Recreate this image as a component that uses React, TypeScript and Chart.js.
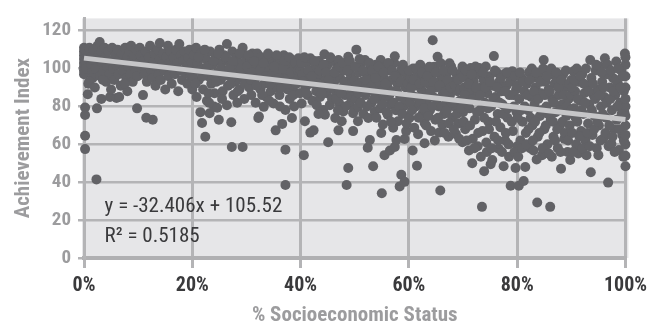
import { useEffect, useRef } from "react";
import { Chart, registerables } from "chart.js";

Chart.register(...registerables);

// x = % socioeconomic status (0-100), y = achievement index
const ses0to10: [number, number][] = [
  [0, 111], [0, 109], [0, 107], [0, 105], [0, 103], [0, 101], [0, 99], [0, 97], [0.2, 110], [0.3, 104], [0.4, 100],
  [0.2, 79.5], [0.2, 75.5], [0.2, 64.5], [0.2, 57.5], [0.7, 86.5], [0.8, 92], [2.4, 79], [2.3, 41.5], [3.2, 84],
  [0.8, 108], [1, 111], [1.2, 106], [1.3, 102], [1.5, 98], [1.6, 95], [1.8, 110], [2, 104], [2.2, 100], [2.5, 112],
  [2.7, 107], [2.9, 114], [3, 96], [3.2, 109], [3.4, 103], [3.6, 99], [3.8, 111], [4, 106], [4.1, 93], [4.3, 101],
  [4.5, 109], [4.7, 97], [4.8, 85], [5, 104], [5.2, 111], [5.4, 100], [5.6, 94], [5.8, 107], [6, 102], [6, 84.5],
  [6.2, 110], [6.4, 97], [6.6, 105], [6.8, 91], [7, 108], [7.2, 99], [7.4, 103], [7.6, 111], [7.8, 95], [8, 106],
  [8, 88], [8.2, 101], [8.4, 109], [8.6, 97], [8.7, 112], [8.9, 104], [9, 93], [9.2, 107], [9.4, 100], [9.6, 110],
  [9.8, 79], [9.9, 96], [1, 93], [2, 90], [5, 89], [6.5, 85], [3.5, 94], [7.5, 92],
];

const ses10to20: [number, number][] = [
  [10, 103], [10.3, 111], [10.5, 107], [10.7, 100], [10.9, 86], [11, 104], [11.2, 97], [11.4, 109], [11.5, 74],
  [11.6, 93], [11.8, 102], [12, 106], [12.2, 112], [12.4, 99], [12.6, 95], [12.7, 73], [12.9, 104], [13, 108],
  [13.2, 91], [13.4, 101], [13.6, 110], [13.8, 97], [14, 113.5], [14, 105], [14.2, 94], [14.4, 102], [14.6, 108],
  [14.8, 99], [15, 89], [15.2, 106], [15.5, 112], [15.6, 96], [15.8, 103], [16, 109], [16.2, 92], [16.4, 100],
  [16.6, 106], [16.8, 97], [17, 110], [17.2, 103], [17.4, 88], [17.6, 113], [17.7, 99], [17.9, 107], [18.1, 94],
  [18.3, 104], [18.5, 109], [18.7, 98], [18.9, 101], [19.1, 92], [19.3, 106], [19.5, 110], [19.7, 96], [19.9, 103],
];

const ses20to30: [number, number][] = [
  [20, 89], [20.3, 107], [20.5, 99], [20.7, 111], [20.8, 85], [21, 103], [21.2, 94], [21.5, 77], [21.6, 108],
  [21.8, 71.3], [22, 89], [22.1, 100], [22.4, 64], [22.5, 105], [22.7, 83], [22.9, 96], [23.2, 76.4], [23.3, 109],
  [23.5, 92], [23.7, 102], [24, 80], [24.1, 87], [24.3, 106], [24.6, 79.3], [24.7, 98], [24.9, 73], [25, 110],
  [25.2, 94], [25.4, 103], [25.6, 88], [25.9, 107], [26.1, 99], [26.4, 113], [26.4, 80.7], [26.6, 91], [26.8, 104],
  [27, 96], [27.2, 71.7], [27.3, 58.6], [27.4, 109], [27.6, 86], [27.8, 101], [28, 93], [28.2, 106], [28.5, 98],
  [28.7, 89], [28.9, 103], [29.1, 109], [29.3, 111], [29.3, 58.6], [29.4, 95], [29.6, 84], [29.8, 100],
  [20.1, 96], [20.6, 92], [21.1, 106], [21.4, 99], [21.9, 96], [22.3, 110], [22.8, 101], [23, 87], [23.6, 97],
  [23.9, 104], [24.4, 93], [24.8, 108], [25.3, 100], [25.8, 96], [26.2, 106], [26.9, 100], [27.1, 92], [27.5, 104],
  [28.1, 97], [28.4, 88], [28.8, 108], [29, 100], [29.7, 92], [23.1, 82], [25.5, 84], [28.3, 82],
];

const ses30to40: [number, number][] = [
  [30, 105], [30.3, 97], [30.5, 90], [30.7, 104], [30.9, 86], [31.1, 108], [31.3, 100], [31.5, 93], [31.7, 82],
  [32, 108], [32.1, 96], [32.2, 73.9], [32.3, 74.7], [32.4, 103], [32.6, 89], [32.8, 106], [33, 98], [33.2, 79.8],
  [33.3, 92], [33.5, 101], [33.7, 85], [33.9, 105], [34.1, 95], [34.3, 99], [34.5, 88], [34.7, 106], [34.9, 102],
  [35, 81.6], [35.2, 94], [35.4, 67.4], [35.5, 98], [35.7, 90], [35.9, 104], [36.1, 86], [36.3, 100], [36.6, 70.8],
  [36.7, 93], [36.9, 107], [37, 96], [37.2, 57.2], [37.2, 38.5], [37.2, 78.1], [37.4, 102], [37.6, 89], [37.8, 99],
  [38, 84], [38.2, 105], [38.4, 73.9], [38.5, 95], [38.7, 91], [38.9, 101], [39.1, 87], [39.3, 97], [39.6, 105.4],
  [39.8, 93],
  [30.1, 101], [30.4, 107], [30.8, 94], [31, 98], [31.4, 104], [31.9, 91], [32.5, 99], [32.9, 86], [33.1, 103],
  [33.6, 96], [34, 108], [34.4, 92], [34.8, 97], [35.1, 101], [35.6, 107], [36, 95], [36.4, 90], [36.8, 100],
  [37.1, 104], [37.5, 92], [37.9, 106], [38.3, 98], [38.6, 86], [39, 103], [39.2, 92], [39.5, 99], [39.9, 87],
  [36.2, 80], [38.8, 80], [34.2, 83],
];

const ses40to50: [number, number][] = [
  [40, 99], [40.2, 81.6], [40.4, 97], [40.6, 54.3], [40.8, 72.2], [40.9, 90], [41.1, 103], [41.3, 86], [41.5, 94],
  [41.8, 105.4], [41.8, 66.2], [42, 99], [42.2, 83], [42.4, 67.4], [42.5, 92], [42.7, 101], [42.9, 88], [43, 80.7],
  [43.2, 96], [43.4, 104], [43.6, 85], [43.8, 91], [44, 99], [44.2, 78.1], [44.4, 107.6], [44.5, 75.6], [44.6, 94],
  [44.8, 87], [45, 102], [45.1, 61.1], [45.3, 90], [45.4, 80.7], [45.6, 97], [45.8, 84], [46, 104], [46.2, 93],
  [46.4, 73.9], [46.5, 88], [46.7, 100], [47, 104.5], [47, 67.4], [47.1, 82], [47.3, 95], [47.6, 72.2], [47.7, 90],
  [47.9, 77.3], [48, 99], [48.2, 86], [48.4, 102], [48.5, 38.5], [48.6, 93], [48.8, 106.2], [48.8, 47.5], [49, 81],
  [49.2, 97], [49.4, 89], [49.7, 76.4], [49.7, 67], [49.8, 101],
  [40.1, 103], [40.5, 93], [40.7, 106], [41, 87], [41.4, 99], [41.7, 92], [42.1, 96], [42.6, 104], [43.1, 92],
  [43.5, 99], [43.9, 87], [44.3, 102], [44.7, 98], [45.2, 94], [45.5, 106], [45.9, 90], [46.3, 98], [46.6, 84],
  [47.2, 101], [47.5, 87], [47.8, 103], [48.1, 93], [48.3, 80], [48.7, 99], [49.1, 104], [49.3, 85], [49.6, 93],
  [49.9, 78], [46.9, 78], [43.3, 76],
];

const ses50to60: [number, number][] = [
  [50, 94], [50.2, 84], [50.3, 110], [50.6, 72.2], [50.6, 79.8], [50.8, 98], [51, 89], [51.2, 103], [51.4, 93],
  [51.6, 76], [51.9, 104.5], [52, 86], [52.2, 97], [52.4, 58.2], [52.5, 73.9], [52.6, 91], [52.8, 62.3], [52.9, 101],
  [53.1, 82], [53.3, 95], [53.4, 48.4], [53.5, 88], [53.7, 77.3], [53.9, 102], [54.1, 92], [54.3, 84], [54.5, 98],
  [54.7, 79], [54.8, 104.5], [55, 34.2], [55, 89], [55.2, 70.5], [55.3, 95], [55.5, 54.3], [55.6, 101], [55.8, 85],
  [56, 91], [56.1, 75.6], [56.3, 99], [56.5, 56.8], [56.6, 81], [56.8, 94], [57, 88], [57.1, 68.8], [57.3, 103],
  [57.4, 58.6], [57.4, 106.5], [57.6, 78], [57.7, 62.3], [57.9, 92], [58, 72.2], [58.1, 97], [58.3, 37.8], [58.4, 85],
  [58.6, 44], [58.7, 100], [58.9, 102], [59, 80], [59.2, 40.2], [59.2, 62.8], [59.4, 90], [59.5, 67], [59.7, 96],
  [59.9, 75],
  [50.1, 101], [50.4, 91], [50.7, 87], [50.9, 105], [51.1, 82], [51.5, 99], [51.8, 88], [52.1, 94], [52.3, 80],
  [52.7, 103], [53, 90], [53.2, 99], [53.6, 84], [53.8, 95], [54, 74], [54.4, 101], [54.6, 88], [55.1, 81],
  [55.4, 98], [55.7, 92], [55.9, 77], [56.2, 103], [56.4, 86], [56.9, 99], [57.2, 82], [57.5, 96], [57.8, 88],
  [58.2, 80], [58.5, 93], [58.8, 76], [59.1, 99], [59.3, 84], [59.6, 71], [59.8, 92], [54.9, 66], [56.7, 72],
];

const ses60to70: [number, number][] = [
  [60.1, 73.9], [60.3, 95], [60.5, 86], [60.7, 56.8], [60.8, 100], [61, 68.8], [61.1, 91], [61.3, 80], [61.5, 48.7],
  [61.6, 97], [61.7, 65.4], [61.9, 84], [62.1, 102], [62.3, 89], [62.5, 76], [62.7, 94], [62.9, 71.3], [62.9, 60.6],
  [63.1, 99], [63.3, 82], [63.5, 87], [63.7, 92], [63.9, 78], [64.1, 67], [64.2, 97], [64.4, 115], [64.5, 85],
  [64.7, 101], [64.9, 73], [65.1, 90], [65.3, 106.2], [65.5, 80], [65.6, 66.2], [65.8, 35.6], [65.9, 102.8], [66, 95],
  [66.2, 70.5], [66.3, 87], [66.5, 76], [66.7, 92], [66.9, 82], [67.1, 98], [67.3, 64], [67.5, 102.8], [67.6, 86],
  [67.8, 101.1], [68, 74], [68.2, 93], [68.4, 80], [68.7, 65.4], [68.8, 97], [69, 88], [69.2, 71], [69.4, 83],
  [69.6, 95], [69.9, 61.1], [69.9, 101.1], [70, 77],
  [60, 99], [60.2, 82], [60.4, 90], [60.6, 78], [60.9, 94], [61.2, 85], [61.4, 100], [61.8, 74], [62, 92],
  [62.2, 82], [62.4, 98], [62.6, 86], [62.8, 79], [63, 93], [63.2, 70], [63.4, 96], [63.6, 75], [63.8, 101],
  [64, 88], [64.3, 80], [64.6, 93], [64.8, 62], [65, 98], [65.2, 84], [65.4, 74], [65.7, 91], [66.1, 80],
  [66.4, 99], [66.6, 66], [66.8, 88], [67, 78], [67.2, 94], [67.4, 71], [67.7, 90], [67.9, 82], [68.1, 99],
  [68.3, 68], [68.5, 91], [68.9, 76], [69.1, 94], [69.3, 63], [69.5, 89], [69.7, 79], [69.8, 98],
];

const ses70to80: [number, number][] = [
  [70.2, 90], [70.4, 68], [70.6, 84], [70.8, 96], [71.1, 56.8], [71.2, 79], [71.4, 100.3], [71.5, 88], [71.7, 50],
  [71.8, 63], [72, 93], [72.2, 73], [72.3, 101.1], [72.5, 85], [72.7, 59], [72.9, 97], [73, 100.3], [73.1, 78],
  [73.3, 53.5], [73.4, 90], [73.5, 27], [73.6, 67], [73.8, 94], [73.9, 45.8], [74, 82], [74.2, 101.1], [74.3, 61],
  [74.5, 87], [74.7, 72], [74.9, 96], [75.1, 49.5], [75.2, 80], [75.4, 51.7], [75.5, 91], [75.7, 106.6], [75.8, 64],
  [76, 85], [76.2, 98], [76.4, 76], [76.6, 57.7], [76.7, 93], [76.9, 69], [77.1, 88], [77.3, 81], [77.5, 48.4],
  [77.6, 97], [77.8, 62], [78, 91], [78.2, 74], [78.5, 53.5], [78.6, 86], [78.8, 38.1], [78.9, 95], [79.1, 98.6],
  [79.2, 67], [79.4, 80], [79.7, 47.5], [79.8, 89], [80, 59],
  [70, 96], [70.1, 72], [70.3, 86], [70.5, 99], [70.7, 62], [70.9, 81], [71, 92], [71.3, 70], [71.6, 97],
  [71.9, 84], [72.1, 58], [72.4, 90], [72.6, 77], [72.8, 66], [73.2, 86], [73.7, 98], [73.9, 74], [74.1, 90],
  [74.4, 56], [74.6, 79], [74.8, 68], [75, 93], [75.3, 58], [75.6, 84], [75.9, 99], [76.1, 72], [76.3, 90],
  [76.5, 62], [76.8, 82], [77, 95], [77.2, 56], [77.4, 76], [77.7, 88], [77.9, 66], [78.1, 98], [78.3, 79],
  [78.4, 60], [78.7, 93], [79, 72], [79.3, 86], [79.5, 56], [79.6, 96], [79.9, 77],
];

const ses80to90: [number, number][] = [
  [80.2, 53.5], [80.3, 38.1], [80.4, 84], [80.6, 62], [80.8, 95], [81, 72], [81.2, 40.7], [81.3, 88], [81.5, 48],
  [81.6, 66], [81.8, 92], [82, 78], [82.2, 98], [82.4, 58], [82.6, 85], [82.8, 70], [83, 56.8], [83, 95.2], [83.2, 81],
  [83.4, 90], [83.7, 29.3], [83.8, 64], [84, 97], [84.2, 75], [84.4, 87], [84.6, 54.3], [84.9, 104.5], [85, 68],
  [85.2, 93], [85.4, 80], [85.6, 60], [85.8, 89], [86.1, 27], [86.1, 96.9], [86.2, 73], [86.4, 53.5], [86.5, 84],
  [86.7, 64], [86.9, 92], [87.1, 77], [87.3, 94.3], [87.5, 58], [87.7, 86], [87.9, 70], [88.1, 47.1], [88.3, 81],
  [88.5, 97], [88.7, 63], [88.9, 90], [89.1, 75], [89.3, 56], [89.5, 84], [89.8, 51.7], [90, 94],
  [80, 91], [80.1, 74], [80.5, 98], [80.7, 78], [80.9, 58], [81.1, 93], [81.4, 80], [81.7, 60], [81.9, 86],
  [82.1, 68], [82.3, 94], [82.5, 74], [82.7, 100], [82.9, 62], [83.1, 88], [83.3, 72], [83.5, 98], [83.6, 52],
  [83.9, 84], [84.1, 66], [84.3, 93], [84.5, 78], [84.7, 58], [84.8, 100], [85.1, 86], [85.3, 70], [85.5, 96],
  [85.7, 76], [85.9, 55], [86, 88], [86.3, 100], [86.6, 72], [86.8, 82], [87, 62], [87.2, 98], [87.4, 68],
  [87.6, 90], [87.8, 78], [88, 56], [88.2, 94], [88.4, 72], [88.6, 86], [88.8, 66], [89, 99], [89.2, 80],
  [89.4, 62], [89.6, 92], [89.7, 70], [89.9, 86],
];

const ses90to100: [number, number][] = [
  [90.2, 66], [90.4, 98.6], [90.5, 79], [90.7, 88], [90.9, 60], [91.1, 72], [91.3, 55.2], [91.4, 93], [91.6, 83],
  [91.8, 67], [92, 97], [92.2, 76], [92.4, 87], [92.6, 62], [92.8, 54.3], [92.9, 91], [93.1, 71], [93.3, 81],
  [93.5, 104.5], [93.6, 45.3], [93.7, 95], [93.9, 65], [94.1, 86], [94.3, 75], [94.5, 99], [94.7, 58], [94.9, 89],
  [95, 54.3], [95.1, 70], [95.3, 101.1], [95.5, 80], [95.7, 93], [95.9, 63], [96.1, 85], [96.2, 105.4], [96.4, 74],
  [96.6, 97], [96.8, 39.8], [96.9, 59], [97.1, 90], [97.4, 60.3], [97.5, 78], [97.7, 95], [97.9, 68], [98.1, 86],
  [98.3, 103.7], [98.4, 73], [98.6, 92], [98.8, 57], [99, 82], [99.2, 99], [99.4, 65], [99.6, 53.5], [99.7, 88],
  [99.8, 77], [99.9, 108], [100, 48.4], [100, 60], [100, 70], [100, 80], [100, 90], [100, 96], [100, 102], [100, 106],
  [90, 78], [90.1, 90], [90.3, 56], [90.6, 94], [90.8, 74], [91, 100], [91.2, 84], [91.5, 64], [91.7, 96],
  [91.9, 78], [92.1, 58], [92.3, 92], [92.5, 82], [92.7, 100], [93, 66], [93.2, 88], [93.4, 59], [93.8, 78],
  [94, 92], [94.2, 68], [94.4, 84], [94.6, 102], [94.8, 72], [95.2, 86], [95.4, 62], [95.6, 98], [95.8, 76],
  [96, 90], [96.3, 66], [96.5, 82], [96.7, 102], [97, 70], [97.2, 84], [97.3, 99], [97.6, 64], [97.8, 88],
  [98, 56], [98.2, 94], [98.5, 80], [98.7, 100], [98.9, 68], [99.1, 90], [99.3, 76], [99.5, 96], [99.7, 62],
  [100, 84], [100, 75], [100, 54], [100, 65],
];

// Linear trend line end points (from y = -32.406x + 105.52)
const trendX = [0, 100];
const trendY = [105.52, 73.11];

const xTicks = [0, 20, 40, 60, 80, 100];
const yTicks = [0, 20, 40, 60, 80, 100, 120];

const xTitle = "% Socioeconomic Status";
const yTitle = "Achievement Index";
const equationText = "y = -32.406x + 105.52";
const rSquaredText = "R² = 0.5185";

const FONT = "'Roboto Condensed', 'Roboto', sans-serif";

export default function App() {
  const ref = useRef<HTMLCanvasElement | null>(null);

  useEffect(() => {
    document.body.style.margin = "0";
    const canvas = ref.current;
    if (!canvas) return;

    const allPoints = [
      ...ses0to10, ...ses10to20, ...ses20to30, ...ses30to40, ...ses40to50,
      ...ses50to60, ...ses60to70, ...ses70to80, ...ses80to90, ...ses90to100,
    ].map(([x, y]) => ({ x, y }));

    const bgPlugin = {
      id: "plotBg",
      beforeDraw(chart: any) {
        const { ctx, chartArea } = chart;
        ctx.save();
        ctx.fillStyle = "#e6e6e8";
        ctx.fillRect(chartArea.left - 2, chartArea.top, chartArea.right - chartArea.left + 5, chartArea.bottom - chartArea.top);
        ctx.restore();
      },
    };

    const labelPlugin = {
      id: "eqLabel",
      afterDatasetsDraw(chart: any) {
        const { ctx, scales } = chart;
        const x0 = scales.x.getPixelForValue(3.8);
        const y1 = scales.y.getPixelForValue(24.4);
        const y2 = scales.y.getPixelForValue(8.2);
        ctx.save();
        ctx.fillStyle = "#3a3a3c";
        ctx.textBaseline = "alphabetic";
        ctx.textAlign = "left";
        ctx.font = `normal 21px ${FONT}`;
        ctx.fillText(equationText, x0, y1);
        ctx.fillText(rSquaredText, x0, y2);
        ctx.restore();
      },
    };

    const chart = new Chart(canvas, {
      type: "scatter",
      data: {
        datasets: [
          {
            type: "line",
            data: trendX.map((x, i) => ({ x, y: trendY[i] })),
            borderColor: "#c6c6c8",
            borderWidth: 5,
            pointRadius: 0,
            fill: false,
            order: 0,
            clip: false,
          } as any,
          {
            type: "scatter",
            data: allPoints,
            backgroundColor: "#626266",
            borderWidth: 0,
            pointRadius: 5,
            order: 1,
            clip: false,
          } as any,
        ],
      },
      options: {
        responsive: false,
        animation: false,
        devicePixelRatio: 1,
        layout: { padding: { top: 10, right: 23, left: 0, bottom: 0 } },
        plugins: { legend: { display: false }, tooltip: { enabled: false } },
        scales: {
          x: {
            type: "linear",
            min: 0,
            max: 100,
            afterBuildTicks: (scale: any) => {
              scale.ticks = xTicks.map((v) => ({ value: v }));
            },
            afterFit: (scale: any) => {
              scale.height = 68;
            },
            ticks: {
              callback: (v: any) => `${v}%`,
              font: { family: FONT, size: 20, weight: "bold" },
              color: "#3a3a3c",
              padding: 6,
              maxRotation: 0,
              autoSkip: false,
            },
            grid: { color: "#b4b4b6", lineWidth: 3, tickLength: 10, drawTicks: true },
            border: { display: true, color: "#b0b0b2", width: 4 },
            title: {
              display: true,
              text: xTitle,
              font: { family: FONT, size: 21, weight: "bold", lineHeight: 1 },
              color: "#9c9c9e",
              padding: { top: 0, bottom: 0 },
            },
          },
          y: {
            type: "linear",
            min: 0,
            max: 126.5,
            afterBuildTicks: (scale: any) => {
              scale.ticks = yTicks.map((v) => ({ value: v }));
            },
            afterFit: (scale: any) => {
              scale.width = 84;
            },
            ticks: {
              font: { family: FONT, size: 19, weight: "bold" },
              color: "#9c9c9e",
              padding: 7,
              autoSkip: false,
            },
            grid: { color: "#b4b4b6", lineWidth: 2.5, tickLength: 6, drawTicks: true },
            border: { display: true, color: "#b4b4b6", width: 3 },
            title: {
              display: true,
              text: yTitle,
              font: { family: FONT, size: 21, weight: "bold" },
              color: "#9c9c9e",
              padding: { top: 11, bottom: 0 },
            },
          },
        },
      },
      plugins: [bgPlugin, labelPlugin],
    });

    return () => chart.destroy();
  }, []);

  return (
    <div style={{ width: 653, height: 326, position: "relative" }}>
      <canvas ref={ref} width={653} height={326} style={{ width: 653, height: 326, display: "block" }} />
    </div>
  );
}
